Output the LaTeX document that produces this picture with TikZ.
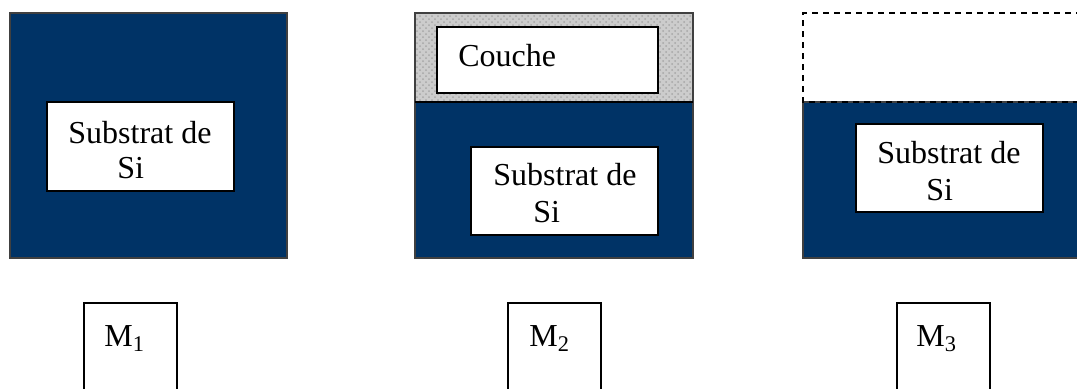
\documentclass[tikz,border=0pt]{standalone}
\usepackage{fontspec}
\setmainfont{Liberation Serif}
\usetikzlibrary{patterns}
\definecolor{siblue}{RGB}{0,51,102}

\begin{document}
\begin{tikzpicture}[x=0.5pt,y=-0.5pt,
        font=\fontsize{16pt}{18pt}\selectfont,
        wafer/.style={fill=siblue,draw=black!75,line width=0.6pt},
        layer/.style={fill=black!20,postaction={pattern=crosshatch dots,pattern color=black!35}},
        subbox/.style={draw,fill=white,line width=1pt,minimum width=93.5pt,minimum height=44pt,anchor=north west,inner sep=0pt,outer sep=0pt},
        lbl/.style={anchor=base west,inner sep=0pt},
        mbox/.style={draw,line width=0.8pt,minimum width=46.5pt,minimum height=60pt,anchor=north west,inner sep=0pt}]
        \clip (0,0) rectangle (1077,388);
        % M1 : substrat seul
        \path[wafer] (10,13) rectangle (287,258);
        \node[subbox,minimum height=44.5pt] (sub1) at (47,102) {};
        \node[lbl] (sub1a) at (68,143) {Substrat de};
        \node[lbl] (sub1b) at (117,178) {Si};
        % M2 : substrat + couche
        \path[layer] (415,13) rectangle (693,102);
        \path[wafer] (415,102) rectangle (693,258);
        \draw[black!75,line width=0.6pt] (415,13) rectangle (693,258);
        \draw[line width=1.2pt] (415,102) -- (693,102);
        \node[subbox,minimum width=110.5pt,minimum height=33pt] (layer2) at (437,27) {};
        \node[lbl] (layer2a) at (458,66) {Couche};
        \node[subbox] (sub2) at (471,147) {};
        \node[lbl] (sub2a) at (493,185) {Substrat de};
        \node[lbl] (sub2b) at (533,222) {Si};
        % M3 : couche retiree
        \path[wafer] (803,102) rectangle (1090,258);
        \draw[line width=0.6pt,dash pattern=on 3pt off 2.5pt] (1090,102) -- (803,102) -- (803,13) -- (1090,13);
        \node[subbox] (sub3) at (856,124) {};
        \node[lbl] (sub3a) at (877,163) {Substrat de};
        \node[lbl] (sub3b) at (926,200) {Si};
        % etiquettes
        \node[mbox] (m1) at (83,302) {};
        \node[lbl] (m1lab) at (104,346) {M\textsubscript{1}};
        \node[mbox] (m2) at (507,302) {};
        \node[lbl] (m2lab) at (529,346) {M\textsubscript{2}};
        \node[mbox] (m3) at (896,302) {};
        \node[lbl] (m3lab) at (916,346) {M\textsubscript{3}};
\end{tikzpicture}
\end{document}
